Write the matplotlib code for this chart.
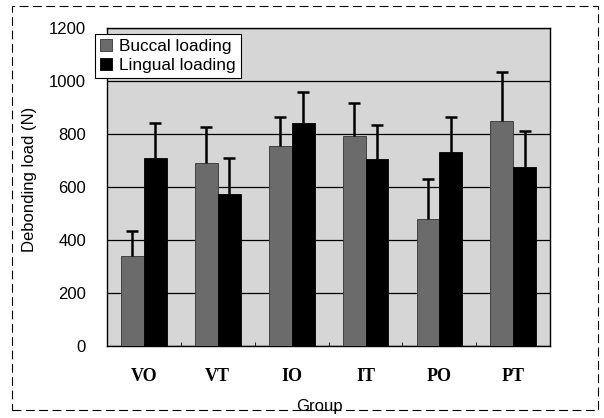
import matplotlib
matplotlib.use("Agg")
import matplotlib.pyplot as plt
import numpy as np
from matplotlib.patches import Rectangle

groups = ["VO", "VT", "IO", "IT", "PO", "PT"]
buccal = [340, 689, 755, 792, 478, 849]
buccal_err = [95, 136, 110, 124, 151, 186]
lingual = [709, 572, 840, 706, 733, 674]
lingual_err = [134, 138, 117, 127, 132, 137]
yticks = [0, 200, 400, 600, 800, 1000, 1200]

fig = plt.figure(figsize=(6.04, 4.18), dpi=100)
ax = fig.add_axes([0.177, 0.172, 0.734, 0.761])
ax.set_facecolor("#d6d6d6")

x = np.arange(len(groups))
w = 0.31
ax.bar(x - w / 2, buccal, w, color="#6b6b6b", edgecolor="#333333", linewidth=0.6,
       label="Buccal loading", zorder=3)
ax.bar(x + w / 2, lingual, w, color="black", edgecolor="black", linewidth=0.6,
       label="Lingual loading", zorder=3)

for pos, vals, errs in [(x - w / 2, buccal, buccal_err), (x + w / 2, lingual, lingual_err)]:
    vals = np.array(vals)
    tops = vals + np.array(errs)
    ax.vlines(pos, vals, tops, colors="black", linewidth=1.8, zorder=4)
    ax.plot(pos, tops, linestyle="none", marker="_", markersize=9,
            markeredgewidth=1.8, color="black", zorder=4)

ax.set_xlim(-0.5, len(groups) - 0.5)
ax.set_ylim(0, 1200)
ax.set_yticks(yticks)
ax.set_yticklabels([str(v) for v in yticks], fontsize=12, family="Liberation Sans")
ax.yaxis.grid(True, color="black", linewidth=0.9, zorder=1)
ax.set_axisbelow(True)
ax.set_xticks(x)
ax.set_xticklabels(groups, fontsize=13, family="Liberation Serif", fontweight="bold")
ax.set_xticks(np.arange(0.5, len(groups) - 0.5, 1), minor=True)
ax.tick_params(axis="x", which="major", length=0, pad=16)
ax.tick_params(axis="x", which="minor", length=3, direction="in")
ax.tick_params(axis="y", length=0, pad=15)
for s in ax.spines.values():
    s.set_linewidth(1.0)
    s.set_color("black")

ax.set_ylabel("Debonding load (N)", fontsize=12, family="Liberation Sans")
ax.yaxis.set_label_coords(-0.158, 0.525)
ax.set_xlabel("Group", fontsize=12, family="Liberation Sans")
ax.xaxis.set_label_coords(0.48, -0.165)

leg = ax.legend(loc="upper left", bbox_to_anchor=(0.157, 0.918),
                bbox_transform=fig.transFigure, frameon=True, fancybox=False,
                borderaxespad=0, handlelength=0.7, handleheight=0.7,
                handletextpad=0.4, labelspacing=0.2, borderpad=0.3,
                prop={"family": "Liberation Sans", "size": 12.4})
leg.get_frame().set_edgecolor("black")
leg.get_frame().set_linewidth(0.8)
leg.get_frame().set_alpha(1)

fig.patches.append(Rectangle((0.02, 0.02), 0.97, 0.965, transform=fig.transFigure,
                             fill=False, edgecolor="black", linewidth=0.8,
                             linestyle=(0, (8, 4))))

fig.savefig("out.png", dpi=100)
